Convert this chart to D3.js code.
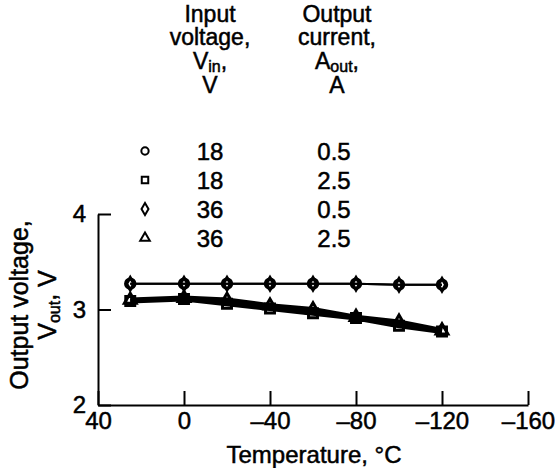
<!DOCTYPE html>
<html>
<head>
<meta charset="utf-8">
<script src="https://cdn.jsdelivr.net/npm/d3@7"></script>
<style>
  body { margin: 0; background: #fff; }
  text { font-family: "Liberation Sans", Arial, sans-serif; fill: #000; stroke: #000; stroke-width: 0.5px; }
</style>
</head>
<body>
<svg id="chart" width="557" height="468"></svg>
<script>
// temperatures, deg C
const temps = [25, 0, -20, -40, -60, -80, -100, -120];

// output voltage for each run
const v18_05 = [3.27, 3.27, 3.27, 3.27, 3.27, 3.27, 3.26, 3.26];
const v36_05 = [3.27, 3.27, 3.27, 3.27, 3.27, 3.27, 3.26, 3.26];
const v18_25 = [3.09, 3.11, 3.06, 3.01, 2.96, 2.91, 2.83, 2.77];
const v36_25 = [3.10, 3.12, 3.10, 3.04, 3.00, 2.92, 2.87, 2.78];

const xTicks = [40, 0, -40, -80, -120, -160];
const yTicks = [2, 3, 4];

// legend rows
const runs = [
  { sym: "circle", vin: "18", aout: "0.5", values: v18_05 },
  { sym: "square", vin: "18", aout: "2.5", values: v18_25 },
  { sym: "diamond", vin: "36", aout: "0.5", values: v36_05 },
  { sym: "triangle", vin: "36", aout: "2.5", values: v36_25 }
];

const FS = 24, SUB = 16;
const svg = d3.select("#chart");

let x = d3.scaleLinear().domain([40, -160]).range([98, 528]);
let y = d3.scaleLinear().domain([2, 4]).range([405, 214]);

const fmt = (d) => (d < 0 ? "\u2013" + Math.abs(d) : "" + d);

// axes, ticks point inward
const xAxis = svg.append("g")
  .attr("transform", "translate(0,405)")
  .call(d3.axisBottom(x).tickValues(xTicks).tickSizeInner(-14).tickSizeOuter(0).tickFormat(fmt));
xAxis.select(".domain").attr("stroke-width", 2);
xAxis.selectAll(".tick line").attr("stroke-width", 2);
xAxis.selectAll(".tick text").attr("font-size", FS).attr("y", 7).attr("dy", "0.71em");

const yAxis = svg.append("g")
  .attr("transform", "translate(98,0)")
  .call(d3.axisLeft(y).tickValues(yTicks).tickSizeInner(-13).tickSizeOuter(0).tickFormat(d3.format("d")));
yAxis.select(".domain").attr("stroke-width", 2);
yAxis.selectAll(".tick line").attr("stroke-width", 2);
yAxis.selectAll(".tick text").attr("font-size", FS).attr("x", -12);

// lines
const line = d3.line()
  .x((d, i) => x(temps[i]))
  .y((d) => y(d));

const symType = {
  circle: d3.symbolCircle,
  square: d3.symbolSquare,
  diamond: d3.symbolDiamond,
  triangle: d3.symbolTriangle
};

runs.forEach((r) => {
  svg.append("path")
    .datum(r.values)
    .attr("d", line)
    .attr("fill", "none")
    .attr("stroke", "#000")
    .attr("stroke-width", r.aout === "2.5" ? 5 : 2);
});

const markSize = { circle: 70, square: 80, diamond: 45, triangle: 60 };

runs.forEach((r) => {
  svg.selectAll(null)
    .data(r.values)
    .enter()
    .append("path")
    .attr("transform", (d, i) => `translate(${x(temps[i])},${y(d)})`)
    .attr("d", d3.symbol().type(symType[r.sym]).size(markSize[r.sym]))
    .attr("fill", "none")
    .attr("stroke", "#000")
    .attr("stroke-width", 3);
});

// legend header
const head = svg.append("g");
const col1 = 210, col2 = 337;
const HFS = 23;

function headLine(cx, yy, main, sub, tail) {
  const t = head.append("text").attr("x", cx).attr("y", yy)
    .attr("text-anchor", "middle").attr("font-size", HFS);
  t.append("tspan").text(main);
  if (sub) {
    t.append("tspan").attr("font-size", SUB).attr("dy", 3).text(sub);
    t.append("tspan").attr("dy", -3).text(tail);
  }
}

headLine(col1, 22, "Input");
headLine(col1, 45, "voltage,");
headLine(col1, 69, "V", "in", ",");
headLine(col1, 93, "V");
headLine(col2, 22, "Output");
headLine(col2, 45, "current,");
headLine(col2, 69, "A", "out", ",");
headLine(col2, 93, "A");

// legend rows
const rowY = (i) => 151 + i * 29;
const rows = svg.append("g");
runs.forEach((r, i) => {
  rows.append("path")
    .attr("transform", `translate(145,${rowY(i)})`)
    .attr("d", d3.symbol().type(symType[r.sym]).size(r.sym === "triangle" ? 40 : 42))
    .attr("fill", "none")
    .attr("stroke", "#000")
    .attr("stroke-width", 2);
  rows.append("text").attr("x", col1).attr("y", rowY(i)).attr("dy", "0.36em")
    .attr("text-anchor", "middle").attr("font-size", FS).text(r.vin);
  rows.append("text").attr("x", col2 - 3).attr("y", rowY(i)).attr("dy", "0.36em")
    .attr("text-anchor", "middle").attr("font-size", FS).text(r.aout);
});

// axis titles
svg.append("text")
  .attr("x", 314).attr("y", 463)
  .attr("text-anchor", "middle").attr("font-size", FS)
  .text("Temperature, \u00B0C");

const yl = svg.append("g").attr("transform", "translate(0,305) rotate(-90)");
yl.append("text").attr("x", 0).attr("y", 28).attr("text-anchor", "middle").attr("font-size", 25)
  .text("Output voltage,");
const t2 = yl.append("text").attr("x", 0).attr("y", 56).attr("text-anchor", "middle").attr("font-size", 25);
t2.append("tspan").text("V");
t2.append("tspan").attr("font-size", SUB).attr("dy", 4).text("out");
t2.append("tspan").attr("dy", -4).text(", V");
</script>
</body>
</html>
